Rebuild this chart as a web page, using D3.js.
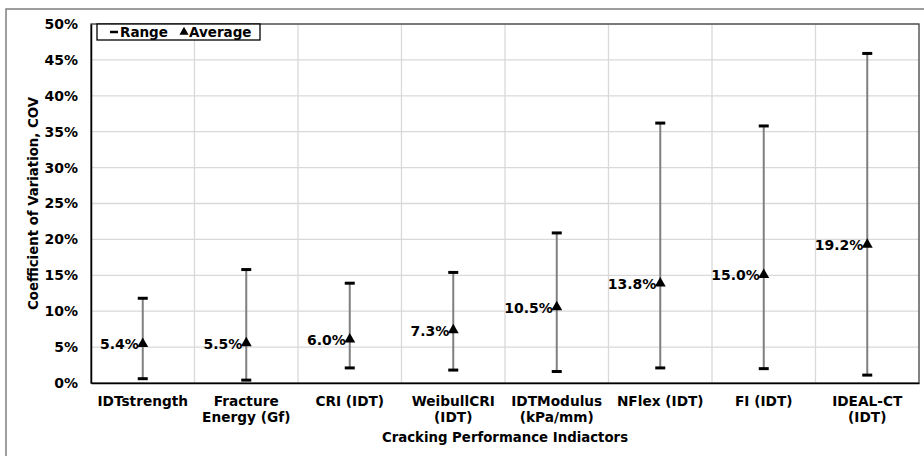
<!DOCTYPE html>
<html>
<head>
<meta charset="utf-8">
<script src="https://cdn.jsdelivr.net/npm/d3@7"></script>
<style>
  html, body { margin: 0; padding: 0; background: #fff; }
  svg { display: block; font-family: "DejaVu Sans", Verdana, sans-serif; font-weight: bold; }
</style>
</head>
<body>
<svg id="chart" width="924" height="456"></svg>
<script>
// Cracking performance indicators (two-line labels split by "\n")
const categories = [
  "IDTstrength",
  "Fracture\nEnergy (Gf)",
  "CRI (IDT)",
  "WeibullCRI\n(IDT)",
  "IDTModulus\n(kPa/mm)",
  "NFlex (IDT)",
  "FI (IDT)",
  "IDEAL-CT\n(IDT)"
];
// Coefficient of variation, percent
const averageCOV = [5.4, 5.5, 6.0, 7.3, 10.5, 13.8, 15.0, 19.2];
const minCOV     = [0.6, 0.4, 2.1, 1.8, 1.6, 2.1, 2.0, 1.1];
const maxCOV     = [11.8, 15.8, 13.9, 15.4, 20.9, 36.2, 35.8, 45.9];
const yTicks     = [0, 5, 10, 15, 20, 25, 30, 35, 40, 45, 50];

const svg = d3.select("#chart");
const plot = { left: 91, top: 24, right: 919, bottom: 383 };
const FONT = "DejaVu Sans, Verdana, sans-serif";

// outer chart frame
svg.append("rect")
  .attr("x", 6).attr("y", 9).attr("width", 930).attr("height", 460)
  .attr("fill", "none").attr("stroke", "#7f7f7f").attr("stroke-width", 1.5);

const x = d3.scaleBand().domain(categories).range([plot.left, plot.right]);
const y = d3.scaleLinear().domain([0, 50]).range([plot.bottom, plot.top]);

// horizontal gridlines
svg.append("g").selectAll("line").data(yTicks.slice(1)).join("line")
  .attr("x1", plot.left).attr("x2", plot.right)
  .attr("y1", d => y(d)).attr("y2", d => y(d))
  .attr("stroke", "#d9d9d9").attr("stroke-width", 1.3);

// vertical gridlines at category boundaries
svg.append("g").selectAll("line").data(categories.slice(1)).join("line")
  .attr("x1", d => x(d)).attr("x2", d => x(d))
  .attr("y1", plot.top).attr("y2", plot.bottom)
  .attr("stroke", "#d9d9d9").attr("stroke-width", 1.3);

// plot frame
svg.append("rect")
  .attr("x", plot.left).attr("y", plot.top)
  .attr("width", plot.right - plot.left).attr("height", plot.bottom - plot.top)
  .attr("fill", "none").attr("stroke", "#404040").attr("stroke-width", 1.3);

// y axis
const yAxis = d3.axisLeft(y).tickValues(yTicks).tickFormat(d => d + "%").tickSize(0).tickPadding(13);
const gy = svg.append("g").attr("transform", `translate(${plot.left},0)`).call(yAxis);
gy.select(".domain").attr("stroke", "#000").attr("stroke-width", 1.5);
gy.selectAll("text").attr("font-size", 14).attr("font-weight", "bold")
  .attr("font-family", FONT).attr("fill", "#000");

// x axis
const xAxis = d3.axisBottom(x).tickSize(0).tickFormat("");
const gx = svg.append("g").attr("transform", `translate(0,${plot.bottom})`).call(xAxis);
gx.select(".domain").attr("stroke", "#000").attr("stroke-width", 1.5);
gx.selectAll(".tick").each(function(d) {
  const lines = d.split("\n");
  const t = d3.select(this).append("text")
    .attr("text-anchor", "middle").attr("fill", "#000")
    .attr("font-size", 13.7).attr("font-weight", "bold")
    .attr("font-family", FONT);
  lines.forEach((s, i) => t.append("tspan").attr("x", 0).attr("y", 23 + i * 15.5).text(s));
});

// range bars
const cx = i => x(categories[i]) + x.bandwidth() / 2;
const bars = svg.append("g");
categories.forEach((c, i) => {
  bars.append("line")
    .attr("x1", cx(i)).attr("x2", cx(i))
    .attr("y1", y(minCOV[i])).attr("y2", y(maxCOV[i]))
    .attr("stroke", "#7f7f7f").attr("stroke-width", 2);
  [minCOV[i], maxCOV[i]].forEach(v => {
    bars.append("line")
      .attr("x1", cx(i) - 5).attr("x2", cx(i) + 5)
      .attr("y1", y(v)).attr("y2", y(v))
      .attr("stroke", "#000").attr("stroke-width", 3);
  });
});

// average markers with value labels
const tri = d3.symbol().type(d3.symbolTriangle).size(52);
svg.append("g").selectAll("path").data(averageCOV).join("path")
  .attr("d", tri)
  .attr("transform", (d, i) => `translate(${cx(i)},${y(d) - 0.5})`)
  .attr("fill", "#000");
svg.append("g").selectAll("text").data(averageCOV).join("text")
  .attr("x", (d, i) => cx(i) - 4).attr("y", d => y(d) + 5)
  .attr("text-anchor", "end").attr("font-size", 14).attr("fill", "#000")
  .text(d => d.toFixed(1) + "%");

// legend
const lg = svg.append("g");
lg.append("rect").attr("x", 97).attr("y", 24).attr("width", 163).attr("height", 16)
  .attr("fill", "#fff").attr("stroke", "#000").attr("stroke-width", 1.3);
lg.append("line").attr("x1", 110).attr("x2", 118).attr("y1", 32).attr("y2", 32)
  .attr("stroke", "#000").attr("stroke-width", 2.5);
lg.append("text").attr("x", 120).attr("y", 37).attr("font-size", 13.5).text("Range");
lg.append("path").attr("d", d3.symbol().type(d3.symbolTriangle).size(36))
  .attr("transform", "translate(184,32)").attr("fill", "#000");
lg.append("text").attr("x", 189).attr("y", 37).attr("font-size", 13.5).text("Average");

// axis titles
svg.append("text")
  .attr("transform", `translate(37.5,${(plot.top + plot.bottom) / 2}) rotate(-90)`)
  .attr("text-anchor", "middle").attr("font-size", 13.3).text("Coefficient of Variation, COV");
svg.append("text")
  .attr("x", (plot.left + plot.right) / 2).attr("y", 442)
  .attr("text-anchor", "middle").attr("font-size", 13.3).text("Cracking Performance Indiactors");
</script>
</body>
</html>
